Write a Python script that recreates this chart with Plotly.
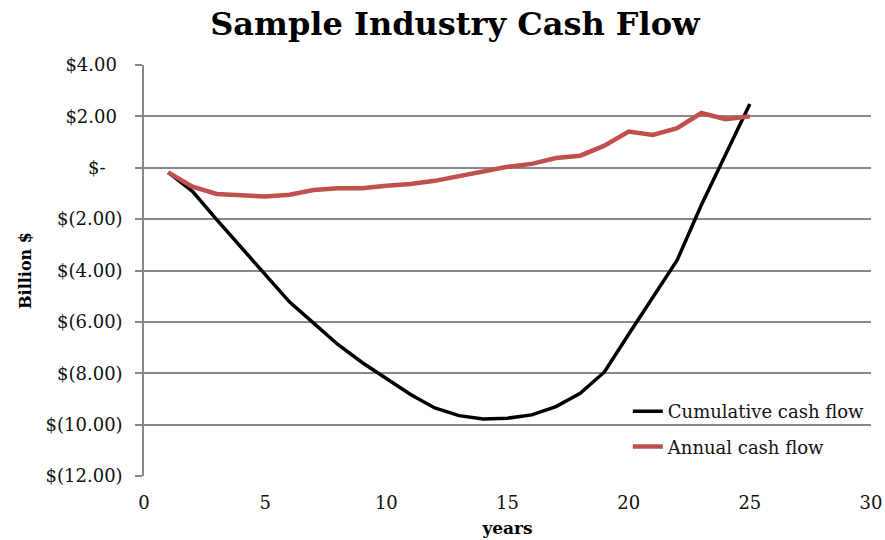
import plotly.graph_objects as go

# ── Data ──────────────────────────────────────────────────────────
years = list(range(1, 26))
cumulative = [-0.18, -0.92, -2.02, -3.08, -4.15, -5.22, -6.05, -6.88, -7.58, -8.22,
              -8.83, -9.35, -9.65, -9.78, -9.75, -9.62, -9.30, -8.78, -7.95, -6.48,
              -5.05, -3.60, -1.45, 0.50, 2.48]
annual = [-0.18, -0.74, -1.02, -1.09, -1.12, -1.05, -0.87, -0.80, -0.80, -0.70,
          -0.63, -0.51, -0.34, -0.16, 0.04, 0.15, 0.38, 0.47, 0.86, 1.41,
          1.28, 1.54, 2.13, 1.89, 2.00]

y_ticks = [4, 2, 0, -2, -4, -6, -8, -10, -12]
NB = "\u00a0"
y_ticktext = ["$4.00" + NB, "$2.00" + NB, "$-" + NB * 3, "$(2.00)", "$(4.00)",
              "$(6.00)", "$(8.00)", "$(10.00)", "$(12.00)"]

# ── Style ─────────────────────────────────────────────────────────
GRID = "#888888"
RED = "#C0504D"
SERIF = "DejaVu Serif"
TICK_FONT = dict(family=SERIF, size=18, color="#111111")

fig = go.Figure()
fig.add_trace(go.Scatter(
    x=years, y=cumulative, mode="lines", name="Cumulative cash flow",
    line=dict(color="#000000", width=3.5), legendgroup="a",
))
fig.add_trace(go.Scatter(
    x=years, y=annual, mode="lines", name="Annual cash flow",
    line=dict(color=RED, width=4.5), legendgroup="b",
))

fig.update_layout(
    width=885, height=540,
    margin=dict(l=144, r=14, t=65, b=64),
    plot_bgcolor="white", paper_bgcolor="white",
    title=dict(text="<b>Sample Industry Cash Flow</b>",
               font=dict(family=SERIF, size=32, color="#000000"),
               x=0.514, xref="container", xanchor="center",
               y=1 - 24 / 540, yref="container", yanchor="middle"),
    xaxis=dict(range=[0, 30], tickvals=[0, 5, 10, 15, 20, 25, 30],
               showgrid=False, zeroline=False, showline=False, automargin=False,
               ticks="", ticklabelstandoff=14, tickfont=TICK_FONT,
               title=dict(text="<b>years</b>", font=dict(family=SERIF, size=17, color="#000000"),
                          standoff=10)),
    # second x axis drawn along y = 0, carrying only the tick marks
    xaxis2=dict(range=[0, 30], tickvals=[0, 5, 10, 15, 20, 25, 30],
                overlaying="x", anchor="free", position=0.75,
                showline=True, linecolor=GRID, linewidth=1.5,
                ticks="outside", ticklen=6, tickcolor=GRID, tickwidth=1.5,
                showticklabels=False, showgrid=False, zeroline=False),
    yaxis=dict(range=[-12, 4], tickvals=y_ticks, ticktext=y_ticktext,
               showgrid=True, gridcolor=GRID, gridwidth=1.5,
               zeroline=False, automargin=False,
               showline=True, linecolor=GRID, linewidth=1.5,
               ticks="outside", ticklen=7, tickcolor=GRID, tickwidth=1.5,
               ticklabelstandoff=9, tickfont=TICK_FONT,
               title=dict(text="<b>Billion $</b>", font=dict(family=SERIF, size=16, color="#000000"),
                          standoff=10)),
    legend=dict(x=0.6655, xanchor="left", y=0.202, yanchor="top",
                bgcolor="rgba(0,0,0,0)", traceorder="grouped", tracegroupgap=9,
                font=dict(family=SERIF, size=18, color="#111111")),
)

# drop the page's default 8px body margin so the chart sits at the top-left corner
fig.write_html("out.html", config={"displayModeBar": False},
               post_script="document.body.style.margin='0';")
